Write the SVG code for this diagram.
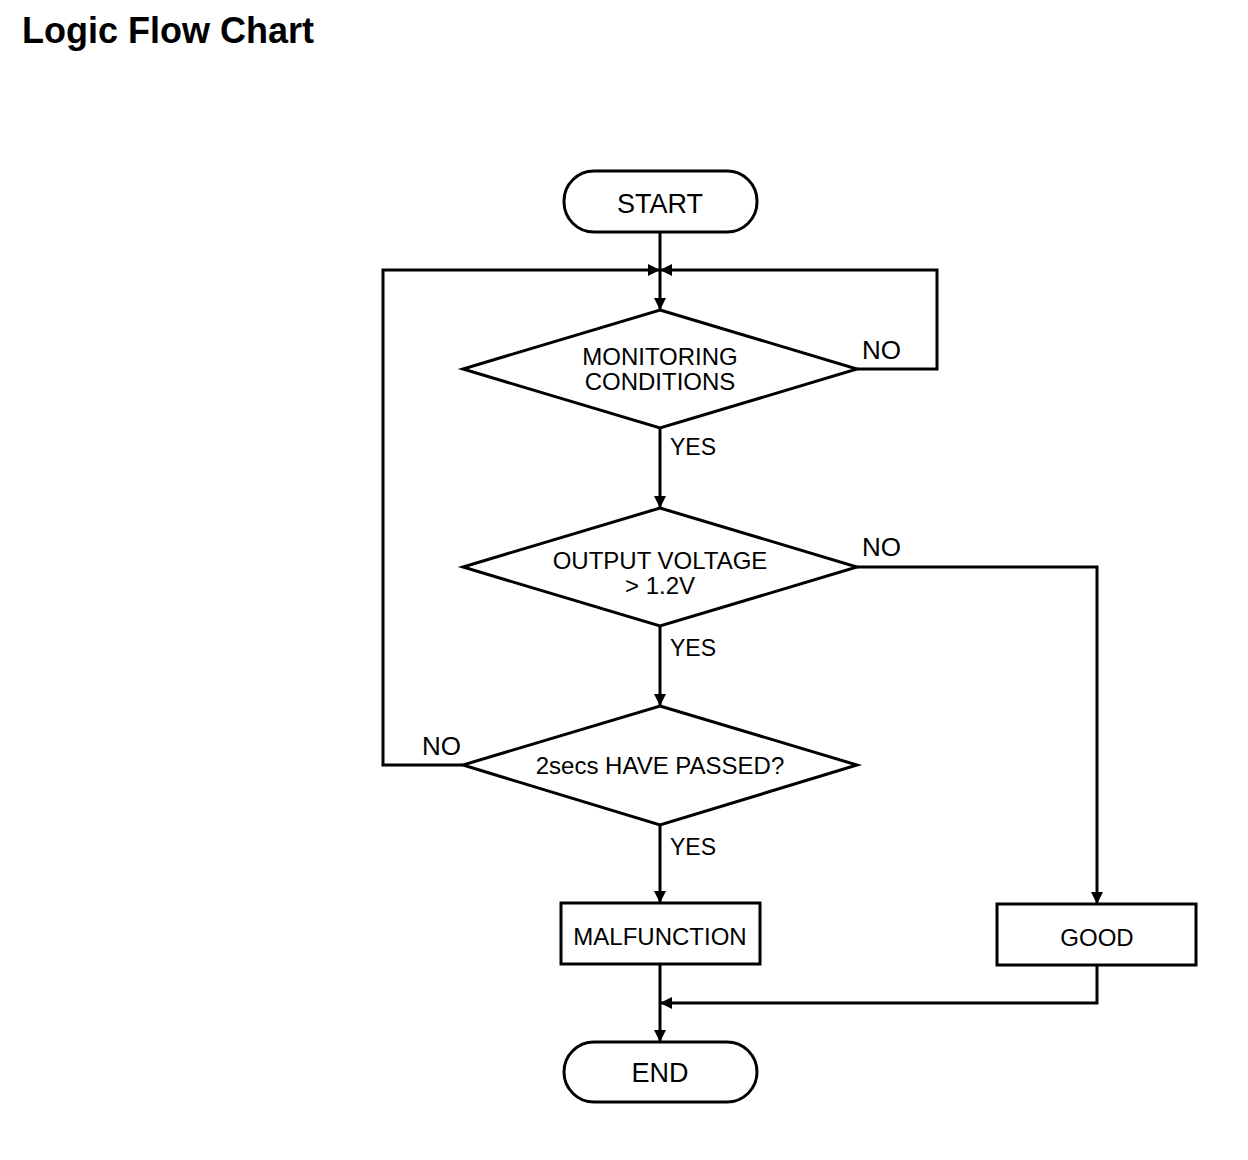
<svg xmlns="http://www.w3.org/2000/svg" width="1248" height="1160" viewBox="0 0 1248 1160">
<style>
.s{fill:#fff;stroke:#000;stroke-width:3}
.c{fill:none;stroke:#000;stroke-width:3}
.t{font-family:"Liberation Sans",Arial,sans-serif;font-size:24px;fill:#000;text-anchor:middle}
.l{font-family:"Liberation Sans",Arial,sans-serif;font-size:26px;fill:#000}
.title{font-family:"Liberation Sans",Arial,sans-serif;font-size:36px;font-weight:bold;fill:#000}
</style>
<defs>
<marker id="a" viewBox="0 0 12 12" refX="12" refY="6" markerWidth="12" markerHeight="12" markerUnits="userSpaceOnUse" orient="auto">
<path d="M0,0 L12,6 L0,12 Z" fill="#000"/>
</marker>
</defs>
<rect width="1248" height="1160" fill="#fff"/>
<text class="title" x="22" y="43">Logic Flow Chart</text>
<g id="connectors">
<path class="c" d="M660,232 V310" marker-end="url(#a)"/>
<path class="c" d="M463,765 H383 V270 H660" marker-end="url(#a)"/>
<path class="c" d="M857,369 H937 V270 H660" marker-end="url(#a)"/>
<path class="c" d="M660,428 V508" marker-end="url(#a)"/>
<path class="c" d="M660,626 V706" marker-end="url(#a)"/>
<path class="c" d="M857,567 H1097 V904" marker-end="url(#a)"/>
<path class="c" d="M660,825 V903" marker-end="url(#a)"/>
<path class="c" d="M660,964 V1042" marker-end="url(#a)"/>
<path class="c" d="M1097,965 V1003 H660" marker-end="url(#a)"/>
<text class="l" x="862" y="359">NO</text>
<text class="l" x="670" y="455" style="font-size:23px">YES</text>
<text class="l" x="862" y="556">NO</text>
<text class="l" x="670" y="656" style="font-size:23px">YES</text>
<text class="l" x="422" y="755">NO</text>
<text class="l" x="670" y="855" style="font-size:23px">YES</text>
</g>
<g id="start">
<rect class="s" x="564" y="171" width="193" height="61" rx="30" ry="30"/>
<text class="t" x="660" y="213" style="font-size:27px">START</text>
</g>
<g id="monitoring">
<polygon class="s" points="660,310 857,369 660,428 463,369"/>
<text class="t" x="660" y="365">MONITORING</text>
<text class="t" x="660" y="390">CONDITIONS</text>
</g>
<g id="voltage">
<polygon class="s" points="660,508 857,567 660,626 463,567"/>
<text class="t" x="660" y="569">OUTPUT VOLTAGE</text>
<text class="t" x="660" y="594">&gt; 1.2V</text>
</g>
<g id="passed">
<polygon class="s" points="660,706 857,765 660,825 463,765"/>
<text class="t" x="660" y="774">2secs HAVE PASSED?</text>
</g>
<g id="malfunction">
<rect class="s" x="561" y="903" width="199" height="61"/>
<text class="t" x="660" y="945">MALFUNCTION</text>
</g>
<g id="good">
<rect class="s" x="997" y="904" width="199" height="61"/>
<text class="t" x="1097" y="946">GOOD</text>
</g>
<g id="end">
<rect class="s" x="564" y="1042" width="193" height="60" rx="30" ry="30"/>
<text class="t" x="660" y="1082" style="font-size:27px">END</text>
</g>
</svg>
